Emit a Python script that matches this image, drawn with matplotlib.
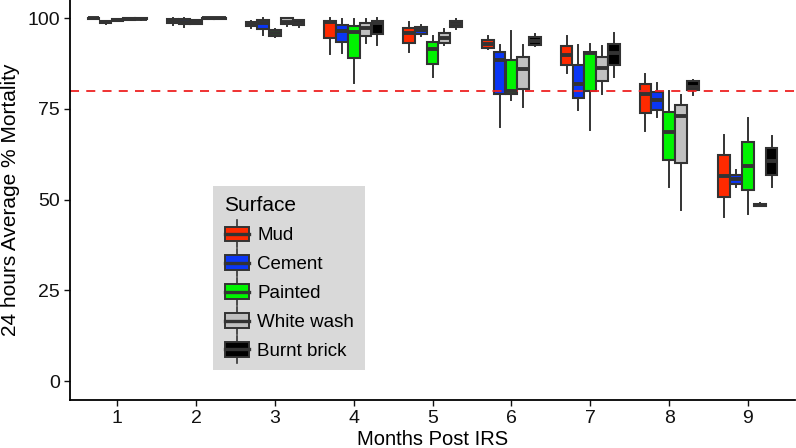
import numpy as np
import matplotlib.pyplot as plt
from matplotlib.patches import Rectangle
from matplotlib.lines import Line2D
from matplotlib.legend_handler import HandlerBase

plt.rcParams['font.family'] = ['Liberation Sans', 'DejaVu Sans']

months = [1, 2, 3, 4, 5, 6, 7, 8, 9]
surfaces = ['Mud', 'Cement', 'Painted', 'White wash', 'Burnt brick']
colors = ['#ff2a00', '#0a36f5', '#00f400', '#c0c0c0', '#000000']

# per month: [lower whisker, q1, median, q3, upper whisker]
mud = [[99.8, 99.8, 100, 100, 100], [98.0, 98.7, 99.2, 99.9, 100],
       [97.3, 97.8, 98.3, 99.0, 99.3], [90.2, 94.6, 98.9, 99.2, 100],
       [90.7, 93.2, 96.0, 97.4, 99.0], [91.4, 91.9, 93.0, 94.1, 95.0],
       [84.9, 87.0, 89.8, 92.3, 95.0], [68.9, 73.9, 79.2, 81.8, 84.5],
       [45.3, 50.8, 56.6, 62.3, 67.8]]
cement = [[98.5, 98.8, 99.0, 99.2, 99.3], [97.6, 98.5, 98.9, 99.7, 100],
          [95.4, 97.0, 98.7, 99.6, 100], [90.4, 93.5, 96.5, 98.2, 99.7],
          [95.0, 95.6, 96.6, 97.6, 98.2], [70.0, 79.2, 88.6, 90.7, 92.7],
          [74.7, 78.0, 81.8, 87.2, 92.7], [72.8, 74.8, 77.4, 79.7, 82.0],
          [53.5, 54.4, 55.8, 56.9, 58.1]]
painted = [[99.2, 99.3, 99.5, 99.7, 99.8], [98.3, 98.3, 99.0, 99.4, 99.4],
           [94.8, 95.0, 95.9, 96.7, 97.0], [82.0, 88.9, 96.2, 97.9, 99.7],
           [83.8, 87.5, 91.4, 93.3, 95.0], [77.4, 79.0, 79.9, 88.6, 96.5],
           [69.3, 79.9, 90.4, 90.7, 93.0], [53.4, 60.9, 68.7, 74.2, 79.9],
           [46.0, 52.6, 59.2, 65.9, 72.4]]
white_wash = [[99.5, 99.6, 99.8, 100, 100], [99.8, 99.9, 100, 100, 100],
              [97.8, 98.5, 99.0, 100, 100], [93.2, 95.2, 97.4, 98.7, 99.7],
              [92.7, 93.2, 94.6, 95.8, 97.1], [75.6, 80.6, 85.9, 89.3, 92.6],
              [79.2, 82.6, 86.3, 89.3, 92.3], [47.1, 60.0, 73.0, 76.0, 78.8],
              [48.2, 48.3, 48.6, 48.9, 49.0]]
burnt_brick = [[99.5, 99.7, 99.9, 100, 100], [99.8, 99.9, 100, 100, 100],
               [97.6, 98.0, 98.6, 99.4, 99.6], [92.7, 95.6, 98.8, 99.2, 100],
               [96.9, 97.6, 98.5, 99.2, 99.7], [92.2, 92.6, 93.8, 94.7, 95.6],
               [83.8, 87.0, 90.3, 93.0, 95.8], [78.8, 80.2, 81.1, 82.6, 83.1],
               [53.4, 56.7, 60.6, 64.1, 67.5]]
all_data = [mud, cement, painted, white_wash, burnt_brick]

edge = '#333333'
fig = plt.figure(figsize=(7.96, 4.48), dpi=100)
ax = fig.add_axes([0.088, 0.107, 0.911, 0.893])

n = len(surfaces)
w = 0.75 / n
for k, (data, col) in enumerate(zip(all_data, colors)):
    stats = []
    for row in data:
        lo, q1, med, q3, hi = row
        stats.append(dict(whislo=lo, q1=q1, med=med, q3=q3, whishi=hi))
    pos = np.array(months) - 0.375 + w * (k + 0.5)
    ax.bxp(stats, positions=pos, widths=w * 0.98, patch_artist=True,
           showcaps=False, showfliers=False,
           boxprops=dict(facecolor=col, edgecolor=edge, linewidth=1.5),
           whiskerprops=dict(color=edge, linewidth=1.4),
           medianprops=dict(color=edge, linewidth=2.8, solid_capstyle='butt'))

ax.axhline(80, color='#ee2222', linestyle=(0, (5, 4)), linewidth=1.3)

ax.set_xlim(0.4, 9.6)
ax.set_ylim(-5.2, 105)
ax.set_xticks(months)
ax.set_xticklabels([str(m) for m in months])
ax.set_yticks([0, 25, 50, 75, 100])
ax.tick_params(labelsize=14, colors='#111111', length=4, width=1)
for side in ['top', 'right']:
    ax.spines[side].set_visible(False)
for side in ['left', 'bottom']:
    ax.spines[side].set_linewidth(1.3)
ax.set_xlabel('Months Post IRS', fontsize=14.5, labelpad=2)
ax.set_ylabel('24 hours Average % Mortality', fontsize=15, labelpad=5)


class BoxHandler(HandlerBase):
    def create_artists(self, legend, orig_handle, xdescent, ydescent,
                       width, height, fontsize, trans):
        fc = orig_handle.get_facecolor()
        x0, y0 = -xdescent, -ydescent
        bx, bw = x0 + 1, width - 2
        rect = Rectangle((bx, y0 + 0.15 * height), bw, 0.7 * height,
                         facecolor=fc, edgecolor=edge, linewidth=1.4, transform=trans)
        cx = x0 + width / 2
        w1 = Line2D([cx, cx], [y0 - 0.15 * height, y0 + 0.15 * height],
                    color=edge, linewidth=1.2, transform=trans)
        w2 = Line2D([cx, cx], [y0 + 0.85 * height, y0 + 1.15 * height],
                    color=edge, linewidth=1.2, transform=trans)
        md = Line2D([bx, bx + bw], [y0 + 0.5 * height] * 2,
                    color=edge, linewidth=2.4, transform=trans)
        return [w1, w2, rect, md]


handles = [Rectangle((0, 0), 1, 1, facecolor=c) for c in colors]
leg = fig.legend(handles, surfaces, title='Surface', loc='lower left',
                 bbox_to_anchor=(0.268, 0.174), bbox_transform=fig.transFigure,
                 handler_map={Rectangle: BoxHandler()},
                 fontsize=13.5, title_fontsize=15, frameon=True, fancybox=False,
                 borderaxespad=0, handlelength=1.45, handleheight=1.3,
                 handletextpad=0.35, labelspacing=0.45, borderpad=0.55)
leg.get_frame().set_facecolor('#d9d9d9')
leg.get_frame().set_edgecolor('none')
leg.get_frame().set_alpha(1)
leg._legend_box.align = 'left'

fig.savefig('out.png', dpi=100)
